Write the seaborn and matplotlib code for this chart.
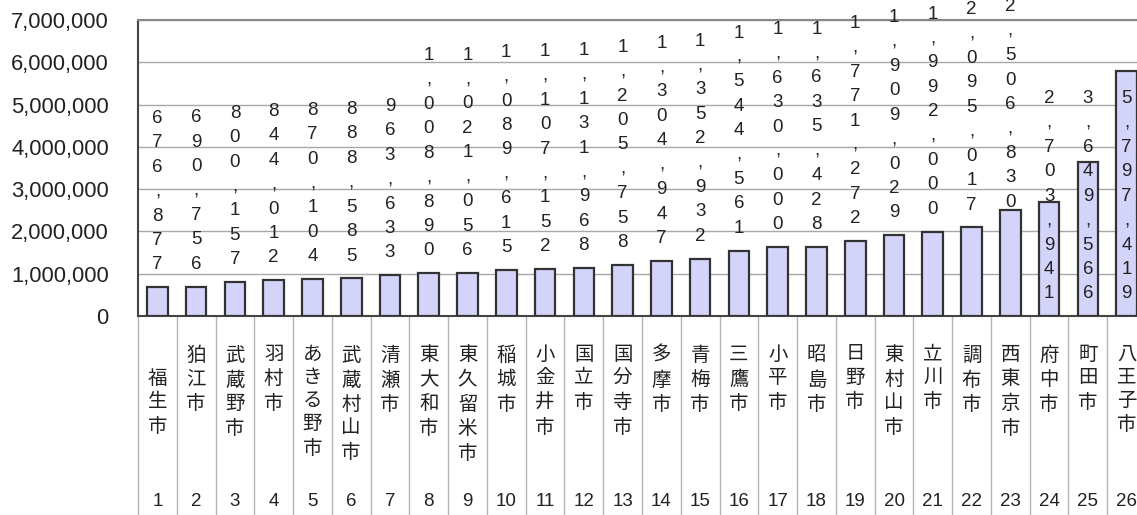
import pandas as pd
import seaborn as sns
import matplotlib.pyplot as plt
import matplotlib.transforms as mtransforms

# 多摩地区 市別データ (small -> large)
cities = ['福生市', '狛江市', '武蔵野市', '羽村市', 'あきる野市', '武蔵村山市', '清瀬市',
          '東大和市', '東久留米市', '稲城市', '小金井市', '国立市', '国分寺市', '多摩市',
          '青梅市', '三鷹市', '小平市', '昭島市', '日野市', '東村山市', '立川市',
          '調布市', '西東京市', '府中市', '町田市', '八王子市']
values = [676877, 690756, 800157, 844012, 870104, 888585, 963633,
          1008890, 1021056, 1089615, 1107152, 1131968, 1205758, 1304947,
          1352932, 1544561, 1630000, 1635428, 1771272, 1909029, 1992000,
          2095017, 2506830, 2703941, 3649566, 5797419]
ranks = list(range(1, 27))
yticks = [0, 1000000, 2000000, 3000000, 4000000, 5000000, 6000000, 7000000]

df = pd.DataFrame({'city': cities, 'value': values, 'rank': ranks})

sns.set_style('white')
plt.rcParams['font.family'] = ['Liberation Sans', 'Noto Sans CJK JP', 'DejaVu Sans']

fig = plt.figure(figsize=(11.37, 5.15), dpi=100)
ax = fig.add_axes([138/1137, 199/515, 1008/1137, 296/515])

sns.barplot(data=df, x='city', y='value', order=cities, color='#d4d4fa',
            saturation=1, width=0.53, edgecolor='#333333', linewidth=1.6, ax=ax, zorder=3)

ax.set_xlim(-0.5, len(cities) - 0.5)
ax.set_ylim(0, 7000000)
ax.set_yticks(yticks)
ax.set_yticklabels([f'{v:,}' for v in yticks], fontsize=15.8, color='#222222')
ax.tick_params(axis='y', length=0, pad=21)
ax.yaxis.grid(True, color='#a8a8a8', linewidth=1.0, zorder=0)
ax.set_axisbelow(True)
ax.set_xlabel('')
ax.set_ylabel('')

# x axis: no labels, small boundary ticks
ax.set_xticks(range(len(cities)))
ax.set_xticklabels([])
ax.tick_params(axis='x', which='major', length=0)
bounds = [i + 0.5 for i in range(len(cities) - 1)]
ax.set_xticks(bounds, minor=True)
ax.tick_params(axis='x', which='minor', direction='in', length=4, color='#aaaaaa', width=1)

for s in ['left', 'bottom']:
    ax.spines[s].set_color('#444444')
    ax.spines[s].set_linewidth(1.5)
ax.spines['top'].set_color('#888888')
ax.spines['top'].set_linewidth(1.5)
ax.spines['right'].set_visible(False)

# category table below the axis
trans = mtransforms.blended_transform_factory(ax.transData, ax.transAxes)
ax.vlines([-0.5] + bounds + [len(cities) - 0.5], -0.68, 0, transform=trans,
          colors='#b4b4b4', linewidth=1, clip_on=False)
label_shift = {'福生市': 1}
for i, (c, r) in enumerate(zip(cities, ranks)):
    txt = '\n' * label_shift.get(c, 0) + '\n'.join(c)
    ax.text(i, -0.103, txt, transform=trans, ha='center', va='top',
            fontsize=14, color='#222222', linespacing=1.47, clip_on=False)
    ax.text(i, -0.625, str(r), transform=trans, ha='center', va='center',
            fontsize=13.5, color='#222222', clip_on=False)

# value labels, one character per line
lab = dict(ha='center', fontsize=13.5, color='#222222', linespacing=1.57,
           annotation_clip=False)
for i, v in enumerate(values):
    txt = '\n'.join(f'{v:,}')
    if v > 2600000:
        ax.annotate(txt, xy=(i, 0.825), xycoords=('data', 'figure fraction'),
                    va='top', **lab)
    elif v > 2400000:
        ax.annotate(txt, xy=(i, 1.003), xycoords=('data', 'figure fraction'),
                    va='top', **lab)
    else:
        ax.annotate(txt, xy=(i, v), xytext=(0, 10), textcoords='offset points',
                    va='bottom', **lab)

fig.savefig('out.png', dpi=100)
